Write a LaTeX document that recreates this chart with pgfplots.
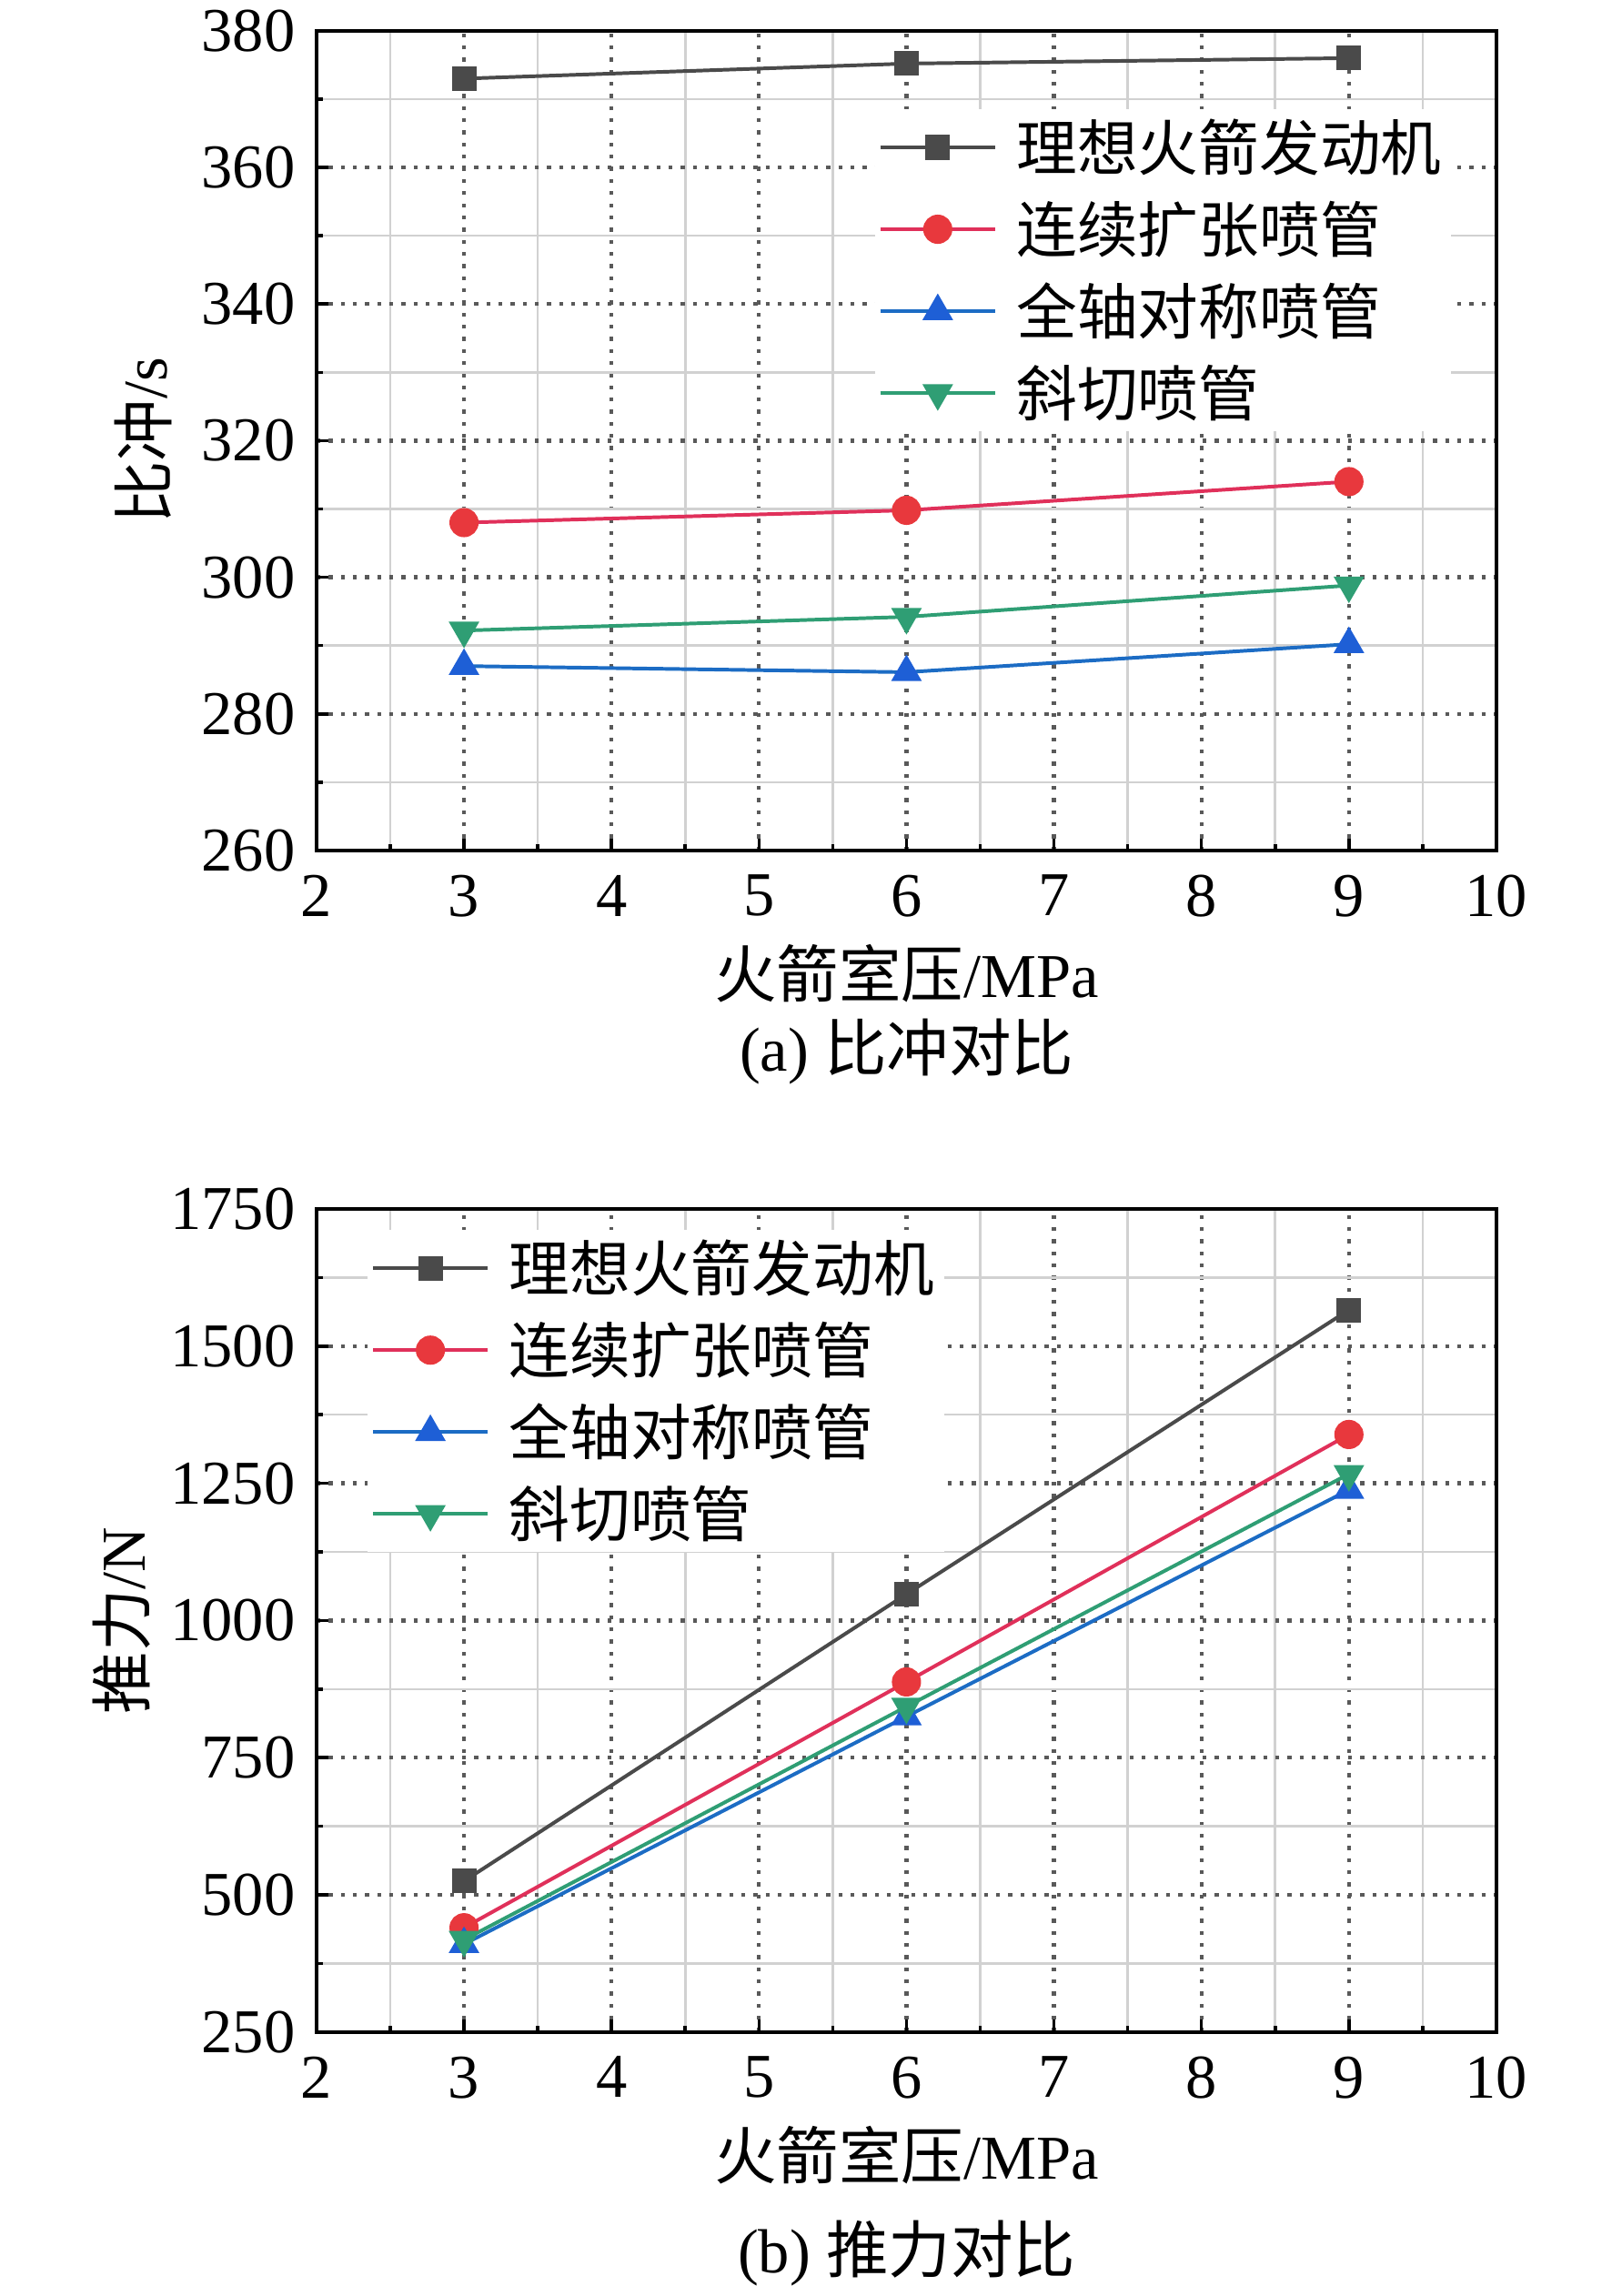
\documentclass[border=0pt]{standalone}
\usepackage{fontspec}
\setmainfont{Liberation Serif}
\newfontfamily\cjk{Noto Sans CJK SC}
\usepackage{pgfplots}
\pgfplotsset{compat=1.18}
\definecolor{cgray}{HTML}{4A4A4A}
\definecolor{cred}{HTML}{E8383D}
\definecolor{credl}{HTML}{E0305A}
\definecolor{cblue}{HTML}{1E5FD6}
\definecolor{cbluel}{HTML}{1C6CC4}
\definecolor{cgreen}{HTML}{2F9E74}
\pgfplotsset{
 mystyle/.style={
  scale only axis, width=359.7pt,
  xmin=2,xmax=10, xtick={2,3,...,10}, minor x tick num=1, minor y tick num=1,
  tick align=inside, xtick pos=bottom, ytick pos=left,
  axis line style={line width=1.1pt},
  major tick length=3.7pt, minor tick length=2pt,
  every tick/.style={black, line width=1pt},
  grid=both,
  major grid style={black!65, line width=1.2pt, dash pattern=on 1.2pt off 2.5pt},
  minor grid style={black!18, line width=0.7pt},
  tick label style={font=\fontsize{19}{22}\selectfont},
  xticklabel style={yshift=-4pt},
  yticklabel style={xshift=-3pt},
  /pgf/number format/assume math mode=true,
  /pgf/number format/1000 sep={},
  label style={font=\fontsize{19}{22}\selectfont},
  xlabel={{\cjk 火箭室压}/MPa},
  xlabel style={at={(axis description cs:0.5,-0.15)}, anchor=center},
  legend style={draw=none, fill=white, font=\fontsize{18.5}{22}\selectfont\cjk, row sep=3.8pt, inner sep=1pt, cells={anchor=west},
    /tikz/every odd column/.append style={column sep=4pt}},
  legend image code/.code={\draw[mark repeat=2,mark phase=2] plot coordinates {(0pt,0pt) (17.5pt,0pt) (35pt,0pt)};},
  every axis plot/.append style={line width=1.1pt},
 },
 s1/.style={color=cgray, mark=square*, mark size=3.2pt, mark options={fill=cgray, draw=cgray}},
 s2/.style={color=credl, mark=*, mark size=3.9pt, mark options={fill=cred, draw=cred}},
 s3/.style={color=cbluel, mark=triangle*, mark size=4.3pt, mark options={fill=cblue, draw=cblue}},
 s4/.style={color=cgreen, mark=triangle*, mark size=4.3pt, mark options={fill=cgreen, draw=cgreen, rotate=180}},
}
\begin{document}
\begin{tikzpicture}
\useasboundingbox (0,0) rectangle (491.4pt,700pt);
\begin{axis}[mystyle, at={(96.5pt,440.7pt)}, anchor=south west, height=249.9pt,
  ymin=260, ymax=380, ytick={260,280,...,380},
  ylabel={{\cjk 比冲}/s},
  ylabel style={at={(axis description cs:-0.147,0.5)}, anchor=center},
  legend style={at={(axis description cs:0.473,0.905)}, anchor=north west}]
\addplot[s1] coordinates {(3,373) (6,375.2) (9,376)};
\addplot[s2] coordinates {(3,308) (6,309.8) (9,314)};
\addplot[s3] coordinates {(3,287) (6,286.1) (9,290.2)};
\addplot[s4] coordinates {(3,292.2) (6,294.2) (9,298.8)};
\legend{理想火箭发动机,连续扩张喷管,全轴对称喷管,斜切喷管}
\end{axis}
\begin{axis}[mystyle, at={(96.5pt,80.5pt)}, anchor=south west, height=250.9pt,
  ymin=250, ymax=1750, ytick={250,500,...,1750},
  ylabel={{\cjk 推力}/N},
  ylabel style={at={(axis description cs:-0.165,0.5)}, anchor=center},
  legend style={at={(axis description cs:0.043,0.975)}, anchor=north west}]
\addplot[s1] coordinates {(3,525) (6,1048) (9,1566)};
\addplot[s2] coordinates {(3,440) (6,888) (9,1339)};
\addplot[s3] coordinates {(3,410) (6,825) (9,1238)};
\addplot[s4] coordinates {(3,418) (6,843) (9,1267)};
\legend{理想火箭发动机,连续扩张喷管,全轴对称喷管,斜切喷管}
\end{axis}
\node[font=\fontsize{19}{22}\selectfont] at (276.4pt,379.4pt) {(a) {\cjk 比冲对比}};
\node[font=\fontsize{19}{22}\selectfont] at (276.4pt,12.9pt) {(b) {\cjk 推力对比}};
\end{tikzpicture}
\end{document}
